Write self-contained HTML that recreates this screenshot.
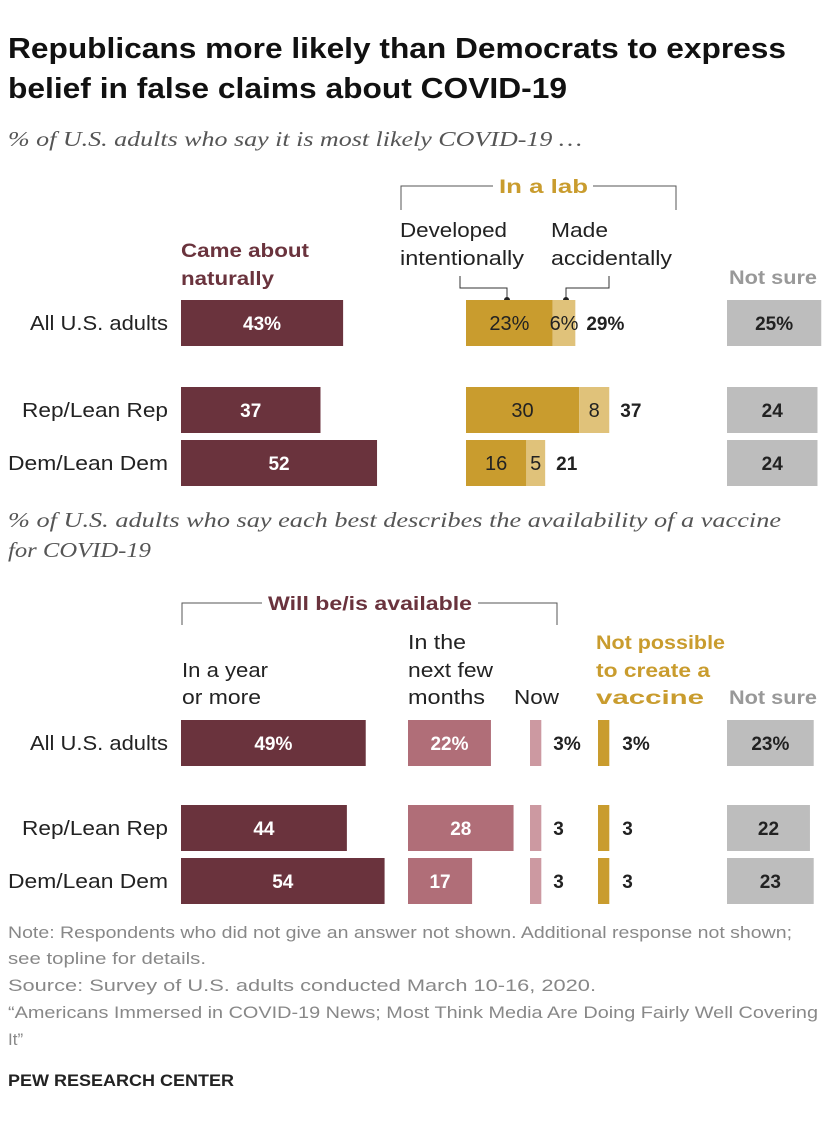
<!DOCTYPE html>
<html><head><meta charset="utf-8"><style>
body{margin:0;background:#fff;}
svg{display:block;font-family:"Liberation Sans",sans-serif;}
</style></head><body>
<svg id="c" width="840" height="1128" viewBox="0 0 840 1128">
<g font-weight="bold" font-size="29" fill="#111">
<text x="8" y="58" textLength="778" lengthAdjust="spacingAndGlyphs">Republicans more likely than Democrats to express</text>
<text x="8" y="98" textLength="559" lengthAdjust="spacingAndGlyphs">belief in false claims about COVID-19</text></g>
<text x="8" y="146" font-family="Liberation Serif,serif" font-style="italic" font-size="21" fill="#555" textLength="574" lengthAdjust="spacingAndGlyphs">% of U.S. adults who say it is most likely COVID-19 …</text>
<path d="M401,210V186H493M593,186H676V210" fill="none" stroke="#555" stroke-width="1"/>
<text x="499" y="193" font-weight="bold" font-size="19" fill="#c99c2e" textLength="89" lengthAdjust="spacingAndGlyphs">In a lab</text>
<g font-size="20" fill="#222">
<text x="400" y="237" textLength="107" lengthAdjust="spacingAndGlyphs">Developed</text><text x="400" y="265" textLength="124" lengthAdjust="spacingAndGlyphs">intentionally</text>
<text x="551" y="237" textLength="57" lengthAdjust="spacingAndGlyphs">Made</text><text x="551" y="265" textLength="121" lengthAdjust="spacingAndGlyphs">accidentally</text></g>
<path d="M460,276V288H507V300M609,276V288H566V300" fill="none" stroke="#333" stroke-width="1"/>
<circle cx="507" cy="300" r="3" fill="#222"/><circle cx="566" cy="300" r="3" fill="#222"/>
<g font-weight="bold" font-size="19">
<text x="181" y="257" fill="#6a333d" textLength="128" lengthAdjust="spacingAndGlyphs">Came about</text><text x="181" y="285" fill="#6a333d" textLength="93" lengthAdjust="spacingAndGlyphs">naturally</text>
<text x="729" y="284" fill="#999" textLength="88" lengthAdjust="spacingAndGlyphs">Not sure</text></g>
<g font-family="Liberation Serif,serif" font-style="italic" font-size="21" fill="#555"><text x="8" y="527" textLength="773" lengthAdjust="spacingAndGlyphs">% of U.S. adults who say each best describes the availability of a vaccine</text><text x="8" y="557" textLength="143" lengthAdjust="spacingAndGlyphs">for COVID-19</text></g>
<path d="M182,625V603H262M478,603H557V625" fill="none" stroke="#555" stroke-width="1"/>
<text x="268" y="610" font-weight="bold" font-size="19" fill="#6a333d" textLength="204" lengthAdjust="spacingAndGlyphs">Will be/is available</text>
<g font-size="20" fill="#222">
<text x="182" y="677" textLength="86" lengthAdjust="spacingAndGlyphs">In a year</text><text x="182" y="704" textLength="79" lengthAdjust="spacingAndGlyphs">or more</text>
<text x="408" y="649" textLength="58" lengthAdjust="spacingAndGlyphs">In the</text><text x="408" y="677" textLength="85" lengthAdjust="spacingAndGlyphs">next few</text><text x="408" y="704" textLength="77" lengthAdjust="spacingAndGlyphs">months</text>
<text x="514" y="704" textLength="45" lengthAdjust="spacingAndGlyphs">Now</text></g>
<g font-weight="bold" font-size="19">
<text x="596" y="649" fill="#c99c2e" textLength="129" lengthAdjust="spacingAndGlyphs">Not possible</text><text x="596" y="677" fill="#c99c2e" textLength="114" lengthAdjust="spacingAndGlyphs">to create a</text><text x="596" y="704" fill="#c99c2e" textLength="108" lengthAdjust="spacingAndGlyphs">vaccine</text>
<text x="729" y="704" fill="#999" textLength="88" lengthAdjust="spacingAndGlyphs">Not sure</text></g>
<g font-size="17" fill="#888">
<text x="8" y="938" textLength="784" lengthAdjust="spacingAndGlyphs">Note: Respondents who did not give an answer not shown. Additional response not shown;</text>
<text x="8" y="964" textLength="198" lengthAdjust="spacingAndGlyphs">see topline for details.</text>
<text x="8" y="991" textLength="588" lengthAdjust="spacingAndGlyphs">Source: Survey of U.S. adults conducted March 10-16, 2020.</text>
<text x="8" y="1018" textLength="810" lengthAdjust="spacingAndGlyphs">“Americans Immersed in COVID-19 News; Most Think Media Are Doing Fairly Well Covering</text>
<text x="8" y="1045">It”</text></g>
<text x="8" y="1086" font-weight="bold" font-size="17" fill="#222" textLength="226" lengthAdjust="spacingAndGlyphs">PEW RESEARCH CENTER</text>
<g id="bars"></g>
</svg>
<script>
const groups=["All U.S. adults","Rep/Lean Rep","Dem/Lean Dem"];
const naturally=[43,37,52];
const labIntent=[23,30,16];
const labAccident=[6,8,5];
const labTotal=[29,37,21];
const notSure1=[25,24,24];
const yearMore=[49,44,54];
const fewMonths=[22,28,17];
const nowV=[3,3,3];
const notPossible=[3,3,3];
const notSure2=[23,22,23];
const K=3.77, H=46;
const x=v=>v*K;
const rows1=[300,387,440], rows2=[720,805,858];
const labelW=[138,146,160];
const g=document.getElementById('bars');
const NS="http://www.w3.org/2000/svg";
function rect(x0,y,w,fill,name){const r=document.createElementNS(NS,'rect');r.setAttribute('x',x0);r.setAttribute('y',y);r.setAttribute('width',w);r.setAttribute('height',H);r.setAttribute('fill',fill);


g.appendChild(r);}
function txt(x0,y,s,fill,bold,anchor,name,tl){const t=document.createElementNS(NS,'text');t.setAttribute('x',x0);t.setAttribute('y',y);t.setAttribute('fill',fill);t.setAttribute('font-size',bold?'19':'20');if(bold)t.setAttribute('font-weight','bold');t.setAttribute('text-anchor',anchor);if(tl){t.setAttribute('textLength',tl);t.setAttribute('lengthAdjust','spacingAndGlyphs');}t.textContent=s;


g.appendChild(t);}
groups.forEach((gr,i)=>{
 const p=i===0?'%':'';
 let y=rows1[i], ty=y+H/2+7;
 txt(168,ty,gr,'#222',false,'end','row-label',labelW[i]);
 rect(181,y,x(naturally[i]),'#6a333d','bar-naturally');
 txt(181+x(naturally[i])/2,ty,naturally[i]+p,'#fff',true,'middle','value-naturally');
 rect(466,y,x(labIntent[i]),'#c99c2e','bar-lab-intentional');
 txt(466+x(labIntent[i])/2,ty,labIntent[i]+p,'#222',false,'middle','value-lab-intentional');
 const xa=466+x(labIntent[i]);
 rect(xa,y,x(labAccident[i]),'#e0c27a','bar-lab-accidental');
 txt(xa+x(labAccident[i])/2,ty,labAccident[i]+p,'#222',false,'middle','value-lab-accidental');
 txt(xa+x(labAccident[i])+11,ty,labTotal[i]+p,'#222',true,'start','value-lab-total');
 rect(727,y,x(notSure1[i]),'#bdbdbd','bar-not-sure');
 txt(727+x(notSure1[i])/2,ty,notSure1[i]+p,'#222',true,'middle','value-not-sure');
 y=rows2[i]; ty=y+H/2+7;
 txt(168,ty,gr,'#222',false,'end','row-label',labelW[i]);
 rect(181,y,x(yearMore[i]),'#6a333d','bar-year-or-more');
 txt(181+x(yearMore[i])/2,ty,yearMore[i]+p,'#fff',true,'middle','value-year-or-more');
 rect(408,y,x(fewMonths[i]),'#b06e78','bar-few-months');
 txt(408+x(fewMonths[i])/2,ty,fewMonths[i]+p,'#fff',true,'middle','value-few-months');
 rect(530,y,x(nowV[i]),'#cc99a1','bar-now');
 txt(530+x(nowV[i])+12,ty,nowV[i]+p,'#222',true,'start','value-now');
 rect(598,y,x(notPossible[i]),'#c99c2e','bar-not-possible');
 txt(598+x(notPossible[i])+13,ty,notPossible[i]+p,'#222',true,'start','value-not-possible');
 rect(727,y,x(notSure2[i]),'#bdbdbd','bar-vaccine-not-sure');
 txt(727+x(notSure2[i])/2,ty,notSure2[i]+p,'#222',true,'middle','value-vaccine-not-sure');
});
</script>
</body></html>
